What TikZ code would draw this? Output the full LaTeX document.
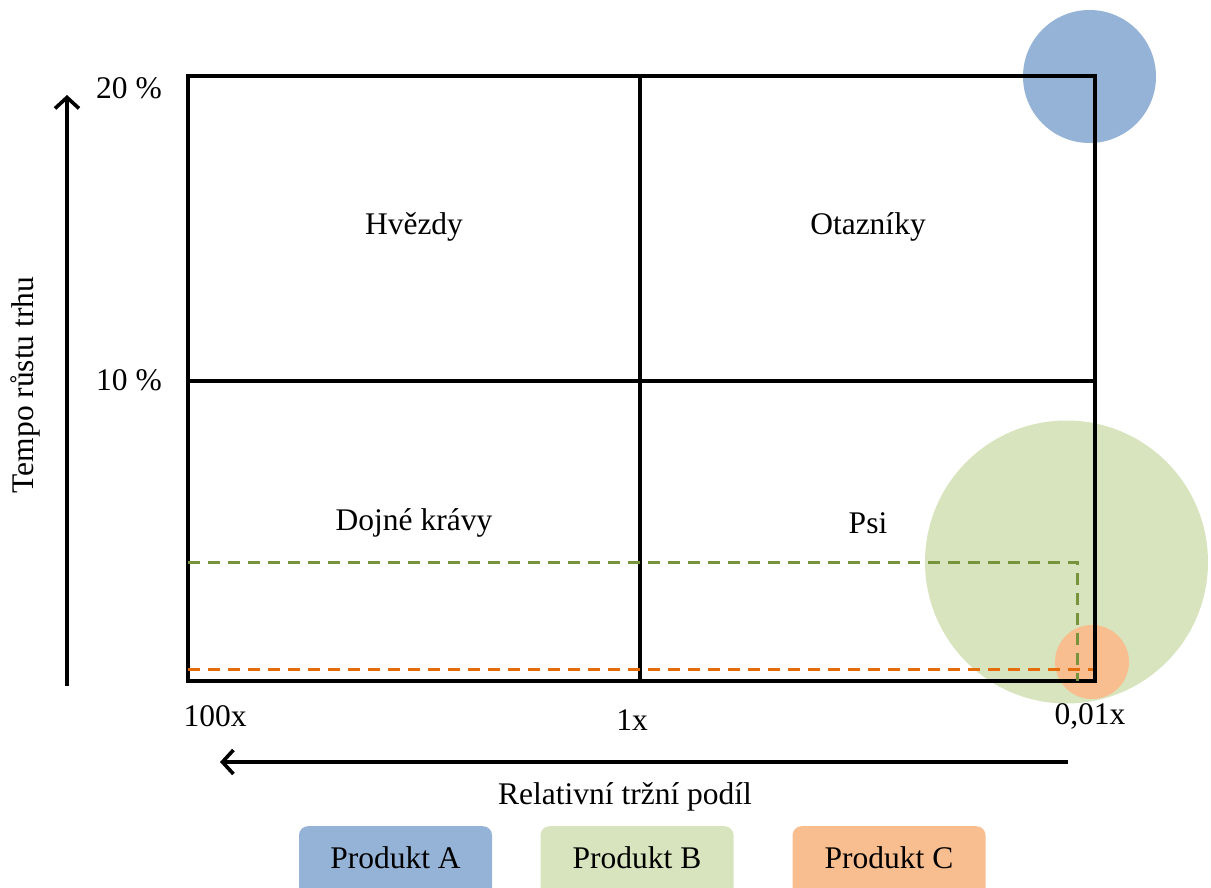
\documentclass[tikz,border=0pt]{standalone}
\usepackage{fontspec}
\setmainfont{Liberation Serif}
\usetikzlibrary{arrows.meta}
\definecolor{prodA}{HTML}{95B3D7}
\definecolor{prodB}{HTML}{D7E4BD}
\definecolor{prodC}{HTML}{F9BE8F}
\definecolor{lineB}{HTML}{77933C}
\definecolor{lineC}{HTML}{E46C0A}
\tikzset{
  lbl/.style={font=\fontsize{31.5}{37}\selectfont, inner sep=0pt},
  grid/.style={line width=3.6pt, black},
  bubble/.style={circle, draw=none, inner sep=0pt},
  axisarrow/.style={line width=3.6pt, -{Straight Barb[length=11pt,width=24pt,line width=3.6pt]}},
  guide/.style={line width=3pt, dash pattern=on 12pt off 8pt},
  legendbox/.style={rounded corners=9pt, draw=none, minimum width=193pt, minimum height=72pt, anchor=north, inner sep=0pt},
}
\begin{document}
\begin{tikzpicture}[x=1pt,y=-1pt]
  \useasboundingbox (0,0) rectangle (1211,888);
  \clip (0,0) rectangle (1211,888);

  % product bubbles (behind the grid)
  \node[bubble, fill=prodA, minimum size=133pt] (bA) at (1089.5,76.5) {};
  \node[bubble, fill=prodB, minimum size=283pt] (bB) at (1066.5,562) {};
  \node[bubble, fill=prodC, minimum size=74pt] (bC) at (1092,662) {};

  % matrix frame and dividers
  \coordinate (tl) at (188,76);
  \coordinate (br) at (1095,681);
  \coordinate (tm) at (640,76);
  \coordinate (bm) at (640,681);
  \coordinate (lm) at (188,381);
  \coordinate (rm) at (1095,381);
  \draw[grid] (tl) rectangle (br);
  \draw[grid] (tm) -- (bm);
  \draw[grid] (lm) -- (rm);

  % guide lines of products B and C
  \coordinate (gB1) at (188,562);
  \coordinate (gB2) at (1077,562);
  \coordinate (gB3) at (1077,681);
  \draw[guide, lineB] (gB1) -- (gB2) -- (gB3);
  \coordinate (gC1) at (188,669);
  \coordinate (gC2) at (1093,669);
  \draw[guide, lineC] (gC1) -- (gC2);

  % quadrant names
  \node[lbl] (q1) at (414,227) {Hvězdy};
  \node[lbl] (q2) at (868,227) {Otazníky};
  \node[lbl] (q3) at (414,523) {Dojné krávy};
  \node[lbl] (q4) at (868,523) {Psi};

  % scale labels
  \node[lbl] (y20) at (129,88) {20 \%};
  \node[lbl] (y10) at (129,380) {10 \%};
  \node[lbl] (x100) at (215,716) {100x};
  \node[lbl] (x1) at (632,720) {1x};
  \node[lbl] (x001) at (1090,716) {0,01x};

  % axes
  \coordinate (ya0) at (67,686);
  \coordinate (ya1) at (67,95);
  \draw[axisarrow] (ya0) -- (ya1);
  \coordinate (xa0) at (1068,762);
  \coordinate (xa1) at (220,762);
  \draw[axisarrow] (xa0) -- (xa1);
  \node[lbl, rotate=90] (ytitle) at (25,385) {Tempo růstu trhu};
  \node[lbl] (xtitle) at (625,797) {Relativní tržní podíl};

  % legend
  \node[legendbox, fill=prodA] (legA) at (395.5,826) {};
  \node[lbl] (legAt) at (395.5,858) {Produkt A};
  \node[legendbox, fill=prodB] (legB) at (637,826) {};
  \node[lbl] (legBt) at (637,858) {Produkt B};
  \node[legendbox, fill=prodC] (legC) at (889,826) {};
  \node[lbl] (legCt) at (889,858) {Produkt C};
\end{tikzpicture}
\end{document}
